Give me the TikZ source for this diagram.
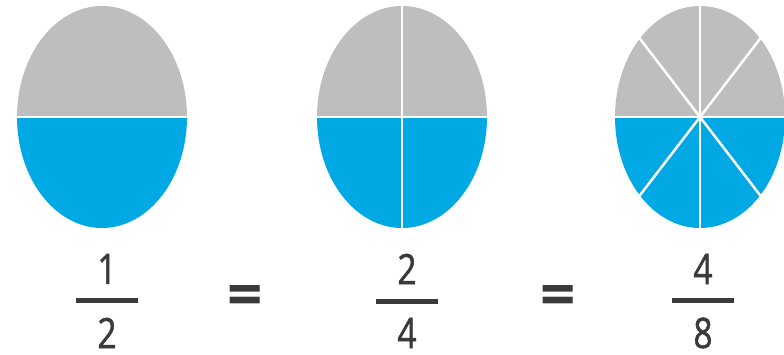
\documentclass[tikz,border=0pt]{standalone}
\usepackage{fontspec}
\usetikzlibrary{positioning}
\newfontfamily\fracfont[FakeStretch=0.8, FakeBold=1.2]{Open Sans}
\newfontfamily\eqfont{Open Sans}
\definecolor{cGray}{RGB}{190,190,190}
\definecolor{cBlue}{RGB}{0,168,228}
\definecolor{cInk}{RGB}{58,58,58}
\tikzset{
	tophalf/.style={fill=cGray},
	bothalf/.style={fill=cBlue},
	cutline/.style={draw=white, line width=2.5pt},
	digit/.style={font=\fracfont\fontsize{42}{42}\selectfont, text=cInk, inner sep=0pt},
	fracbar/.style={draw=cInk, line width=5pt},
	eqsign/.style={font=\eqfont\bfseries\fontsize{62}{62}\selectfont, text=cInk, inner sep=0pt, anchor=base},
}

\begin{document}
\begin{tikzpicture}[x=1pt, y=1pt]
	\useasboundingbox (0,0) rectangle (784,355);
	% ovals cut into equal parts
	\foreach \cx/\num/\den/\fx/\nm/\angs in {102/1/2/107/a/{0}, 402/2/4/407/b/{0,90}, 700/4/8/703/c/{0,45,90,135}} {
		\coordinate (o\nm) at (\cx,238);
		\fill[tophalf] (o\nm) ++(85,0) arc[start angle=0, end angle=180, x radius=85, y radius=111] -- cycle;
		\fill[bothalf] (o\nm) ++(-85,0) arc[start angle=180, end angle=360, x radius=85, y radius=111] -- cycle;
		\foreach \t in \angs {
			\draw[cutline] (o\nm) ++({86*cos(\t)},{112*sin(\t)}) -- ++({-172*cos(\t)},{-224*sin(\t)});
		}
		% fraction below
		\node[digit] (n\nm) at (\fx,86) {\num};
		\node[digit] (d\nm) at (\fx,22) {\den};
		\path (n\nm.south) -- (d\nm.north) coordinate[midway] (m\nm);
		\draw[fracbar] ([xshift=-31pt]m\nm) -- ([xshift=31pt]m\nm);
	}
	\node[eqsign] (eq1) at (245,38) {=};
	\node[eqsign] (eq2) at (558,38) {=};
\end{tikzpicture}
\end{document}
